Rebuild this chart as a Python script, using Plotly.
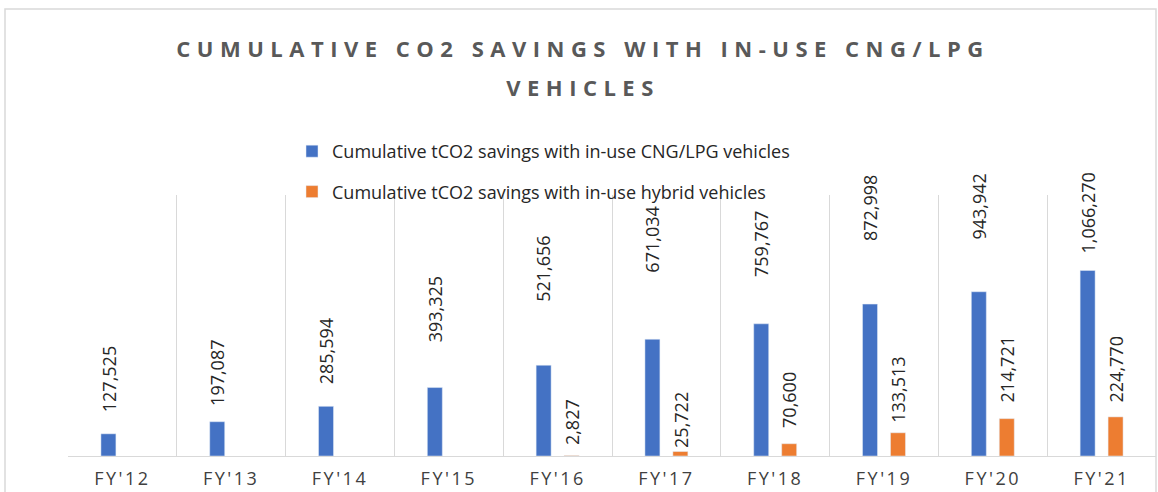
import plotly.graph_objects as go

categories = ["FY'12", "FY'13", "FY'14", "FY'15", "FY'16", "FY'17", "FY'18", "FY'19", "FY'20", "FY'21"]
cng_lpg = [127525, 197087, 285594, 393325, 521656, 671034, 759767, 872998, 943942, 1066270]
hybrid = [None, None, None, None, 2827, 25722, 70600, 133513, 214721, 224770]

series_names = ["Cumulative tCO2 savings with in-use CNG/LPG vehicles",
                "Cumulative tCO2 savings with in-use hybrid vehicles"]
title_lines = ["CUMULATIVE CO2 SAVINGS WITH IN-USE CNG/LPG", "VEHICLES"]

# label lift above each bar top (pixels) - styling only
blue_lift = [20, 14, 20, 43, 61, 65, 45, 61, 50, 15]
orange_lift = [0, 0, 0, 0, 8, 2, 14, 8, 14, 12]

BLUE = "#4472C4"
ORANGE = "#ED7D31"
FONT = "Open Sans"

fig = go.Figure()
fig.add_trace(go.Bar(x=categories, y=cng_lpg, name=series_names[0], marker_color=BLUE,
                     legendgroup="a", hoverinfo="x+y"))
fig.add_trace(go.Bar(x=categories, y=hybrid, name=series_names[1], marker_color=ORANGE,
                     legendgroup="b", hoverinfo="x+y"))

annotations = []
for vals, lifts, dx in ((cng_lpg, blue_lift, -14), (hybrid, orange_lift, 14)):
    for c, v, lift in zip(categories, vals, lifts):
        if v is None:
            continue
        annotations.append(dict(x=c, y=v, xref="x", yref="y", text=f"{v:,}", showarrow=False,
                                textangle=-90, xanchor="center", yanchor="bottom",
                                xshift=dx, yshift=lift,
                                font=dict(family=FONT, size=18, color="#262626")))

span = '<span style="font-size:22px;letter-spacing:6.5px">{}</span>'
title_text = "<br>".join(span.format(t) for t in title_lines)

fig.update_layout(
    width=1158, height=492,
    margin=dict(l=68, r=2, t=195, b=36, autoexpand=False),
    paper_bgcolor="white", plot_bgcolor="white",
    barmode="group", bargap=0.486, bargroupgap=0.464,
    title=dict(text=title_text, x=0.5 + 4 / 1158, xanchor="center", xref="container",
               y=1 - 57 / 492, yanchor="top", yref="container",
               font=dict(family=FONT, size=30, color="#595959", weight="bold")),
    legend=dict(x=292 / 1158, xanchor="left", xref="container",
                y=1 - 133 / 492, yanchor="top", yref="container",
                font=dict(family=FONT, size=18, color="#262626"),
                tracegroupgap=14, bgcolor="rgba(0,0,0,0)"),
    xaxis=dict(type="category", tickson="boundaries", showgrid=True, gridcolor="#d9d9d9",
               gridwidth=1, showline=True, linecolor="#d9d9d9", linewidth=1, ticks="",
               tickvals=categories, tickangle=0,
               ticktext=[f'<span style="letter-spacing:2.5px">{c}</span>' for c in categories],
               tickfont=dict(family=FONT, size=18, color="#404040"),
               ticklabelstandoff=6, zeroline=False),
    yaxis=dict(range=[0, 1500000], visible=False, showgrid=False, zeroline=False),
    annotations=annotations,
    shapes=[dict(type="rect", xref="paper", yref="paper",
                 x0=(5 - 68) / 1088, x1=1.0, y0=-0.2, y1=(456 - 9) / 261,
                 line=dict(color="#d9d9d9", width=1.5), layer="below")],
    font=dict(family=FONT),
)

fig.write_html("out.html", config={"displayModeBar": False},
               post_script="document.body.style.margin='0';")
